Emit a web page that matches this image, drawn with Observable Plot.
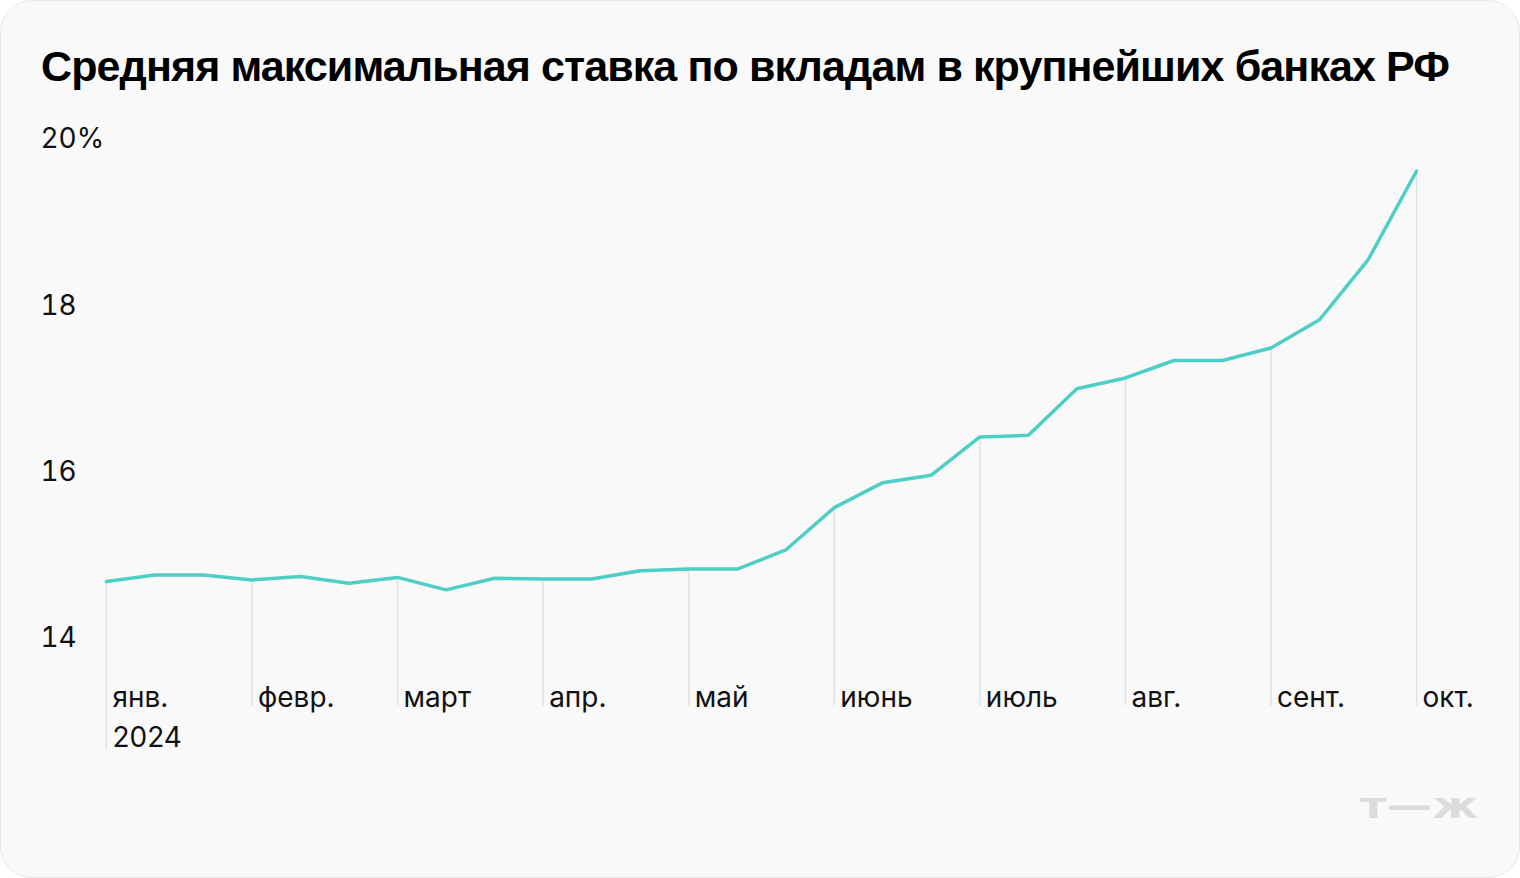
<!DOCTYPE html>
<html>
<head>
<meta charset="utf-8">
<script src="https://cdn.jsdelivr.net/npm/d3@7"></script>
<script src="https://cdn.jsdelivr.net/npm/@observablehq/plot@0.6"></script>
<style>
  html, body { margin: 0; padding: 0; background: #ffffff; }
  #card {
    position: absolute; left: 0; top: 0;
    width: 1518px; height: 876px;
    background: #f9f9f9;
    border: 1px solid #e8e8e8;
    border-radius: 32px;
    overflow: hidden;
  }
  #title {
    position: absolute; left: 40px; top: 43px;
    font-family: "Liberation Sans", Arial, sans-serif;
    font-weight: bold; font-size: 43px; line-height: 44px;
    letter-spacing: -0.9px;
    color: #000; white-space: nowrap;
  }
  #chart { position: absolute; left: -1px; top: -1px; }
  #logo { position: absolute; left: -1px; top: -1px; }
</style>
</head>
<body>
<div id="card">
  <div id="title">Средняя максимальная ставка по вкладам в крупнейших банках РФ</div>
  <div id="chart"></div>
  <svg id="logo" width="1520" height="878">
    <text x="1360" y="818" textLength="118" lengthAdjust="spacingAndGlyphs"
      font-family="DejaVu Sans" font-weight="bold" font-size="36" fill="#dcdcdc">т—ж</text>
  </svg>
</div>
<script>
// dekad dates (1st, 11th, 21st of each month)
const dates = [
  "2024-01-01","2024-01-11","2024-01-21",
  "2024-02-01","2024-02-11","2024-02-21",
  "2024-03-01","2024-03-11","2024-03-21",
  "2024-04-01","2024-04-11","2024-04-21",
  "2024-05-01","2024-05-11","2024-05-21",
  "2024-06-01","2024-06-11","2024-06-21",
  "2024-07-01","2024-07-11","2024-07-21",
  "2024-08-01","2024-08-11","2024-08-21",
  "2024-09-01","2024-09-11","2024-09-21",
  "2024-10-01"
];
const rates = [
  14.68, 14.76, 14.76,
  14.70, 14.74, 14.66,
  14.73, 14.58, 14.72,
  14.71, 14.71, 14.81,
  14.83, 14.83, 15.06,
  15.57, 15.87, 15.96,
  16.42, 16.44, 17.00,
  17.13, 17.34, 17.34,
  17.49, 17.83, 18.55,
  19.62
];
const monthTicks = ["2024-01-01","2024-02-01","2024-03-01","2024-04-01","2024-05-01",
  "2024-06-01","2024-07-01","2024-08-01","2024-09-01","2024-10-01"];
const monthLabels = ["янв.","февр.","март","апр.","май","июнь","июль","авг.","сент.","окт."];
const yearLabel = "2024";
const yTicks = [14, 16, 18, 20];

const data = dates.map((d, i) => ({date: d, rate: rates[i]}));
const monthData = monthTicks.map((d, i) => ({date: d, label: monthLabels[i], rate: rates[dates.indexOf(d)]}));
const yMin = yTicks[0];

const font = "Inter, Roboto, sans-serif";

const chart = Plot.plot({
  width: 1520,
  height: 878,
  marginLeft: 106,
  marginRight: 103,
  marginTop: 139,
  marginBottom: 240,
  style: {background: "transparent", fontFamily: font, overflow: "visible"},
  x: {type: "point", domain: dates, padding: 0, round: false, axis: null},
  y: {domain: [14, 20], axis: null},
  marks: [
    Plot.ruleX(monthData.slice(1), {x: "date", y1: "rate", y2: () => yMin, stroke: "#e0e0e0", strokeWidth: 1.5, insetBottom: -68}),
    Plot.ruleX(monthData.slice(0, 1), {x: "date", y1: "rate", y2: () => yMin, stroke: "#e0e0e0", strokeWidth: 1.5, insetBottom: -112}),
    Plot.axisY({ticks: yTicks, tickSize: 0, tickPadding: 0, textAnchor: "start", dx: -66, label: null,
      tickFormat: d => d === 20 ? "20%" : String(d), fontSize: 28, fill: "#111"}),
    Plot.text(monthData, {x: "date", y: () => yMin, text: "label", textAnchor: "start", dx: 6, dy: 60,
      fontSize: 28, fill: "#111"}),
    Plot.text(monthData.slice(0, 1), {x: "date", y: () => yMin, text: () => yearLabel, textAnchor: "start", dx: 6, dy: 100,
      fontSize: 28, fill: "#111"}),
    Plot.line(data, {x: "date", y: "rate", stroke: "#4ecec4", strokeWidth: 3.5, strokeLinejoin: "miter"})
  ]
});
document.getElementById("chart").appendChild(chart);
</script>
</body>
</html>
